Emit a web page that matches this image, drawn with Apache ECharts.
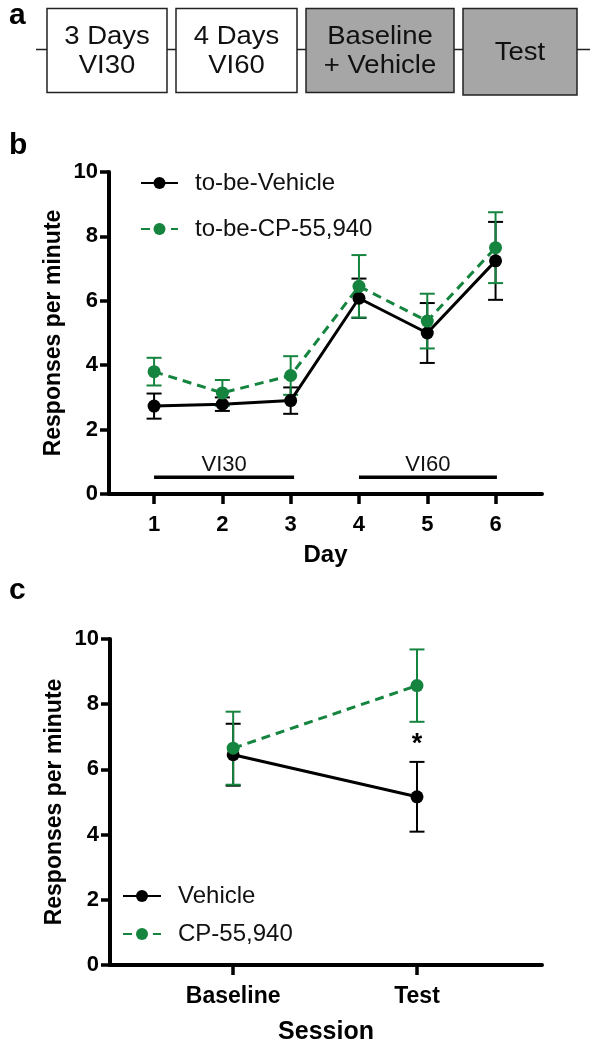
<!DOCTYPE html>
<html>
<head>
<meta charset="utf-8">
<script src="https://cdn.jsdelivr.net/npm/echarts@6/dist/echarts.min.js"></script>
<style>
html,body{margin:0;padding:0;background:#fff;}
#chart{width:594px;height:1050px;}
</style>
</head>
<body>
<div id="chart"></div>
<script>
// ---------- Panel a: protocol timeline ----------
var stageLabels = ['3 Days\nVI30', '4 Days\nVI60', 'Baseline\n+ Vehicle', 'Test'];
var stageShaded = [false, false, true, true];

// ---------- Panel b: acquisition ----------
var days = [1, 2, 3, 4, 5, 6];
var dayTickLabels = ['1', '2', '3', '4', '5', '6'];
var toBeVehicleMean = [2.73, 2.79, 2.90, 6.08, 5.00, 7.24];
var toBeVehicleSem  = [0.39, 0.21, 0.41, 0.61, 0.93, 1.21];
var toBeCPMean      = [3.80, 3.14, 3.68, 6.45, 5.37, 7.65];
var toBeCPSem       = [0.43, 0.40, 0.60, 0.97, 0.85, 1.10];
var scheduleNames = ['VI30', 'VI60'];
var scheduleStartDay = [1, 4];
var scheduleEndDay = [3.05, 6.02];
var scheduleLevel = 0.52;

// ---------- Panel c: test ----------
var sessions = ['Baseline', 'Test'];
var sessionPos = [1, 2];
var vehicleMean = [6.45, 5.16];
var vehicleSem  = [0.95, 1.07];
var cpMean      = [6.65, 8.57];
var cpSem       = [1.12, 1.11];
var sigSession = [2];
var sigLevel = [6.75];
var sigText = ['*'];

var FONT = '"Liberation Sans", Arial, sans-serif';
var GREEN = '#15843f';
var BLACK = '#000000';

function errData(xs, m, e) {
  return xs.map(function (x, i) { return [x, m[i] - e[i], m[i] + e[i]]; });
}
function lineData(xs, m) {
  return xs.map(function (x, i) { return [x, m[i]]; });
}
function errRender(color) {
  return function (params, api) {
    var x = api.value(0);
    var lo = api.coord([x, api.value(1)]);
    var hi = api.coord([x, api.value(2)]);
    var w = 7.5;
    var st = { stroke: color, lineWidth: 2 };
    return {
      type: 'group',
      children: [
        { type: 'line', shape: { x1: lo[0], y1: lo[1], x2: hi[0], y2: hi[1] }, style: st },
        { type: 'line', shape: { x1: hi[0] - w, y1: hi[1], x2: hi[0] + w, y2: hi[1] }, style: st },
        { type: 'line', shape: { x1: lo[0] - w, y1: lo[1], x2: lo[0] + w, y2: lo[1] }, style: st }
      ]
    };
  };
}

function yAxisCfg(gridIndex) {
  return {
    type: 'value', gridIndex: gridIndex, min: 0, max: 10, interval: 2,
    name: 'Responses per minute', nameLocation: 'middle', nameGap: 44, nameMoveOverlap: false,
    nameTextStyle: { fontFamily: FONT, fontSize: 23, fontWeight: 'bold', color: BLACK },
    axisLine: { show: true, lineStyle: { color: BLACK, width: 4 } },
    axisTick: { show: true, length: 9, lineStyle: { color: BLACK, width: 3.5 } },
    axisLabel: { fontFamily: FONT, fontSize: 22, fontWeight: 'bold', color: BLACK, margin: 11 },
    splitLine: { show: false }
  };
}

// ---------- graphic for panel a ----------
var boxL = [47, 176, 306, 463];
var boxR = [167, 297, 454, 577];
var boxT = [8.5, 8.5, 8.5, 8.5];
var boxB = [92.5, 92.5, 92.5, 95];
var graphics = [
  { type: 'line', shape: { x1: 36, y1: 49.5, x2: 590, y2: 49.5 }, style: { stroke: '#222', lineWidth: 1.5 }, z: 1 }
];
stageLabels.forEach(function (lab, i) {
  graphics.push({
    type: 'rect', shape: { x: boxL[i], y: boxT[i], width: boxR[i] - boxL[i], height: boxB[i] - boxT[i] },
    style: { fill: stageShaded[i] ? '#a6a6a6' : '#ffffff', stroke: '#222', lineWidth: 1.5 }, z: 2
  });
  graphics.push({
    type: 'text', x: (boxL[i] + boxR[i]) / 2, y: (boxT[i] + boxB[i]) / 2 + 1, scaleX: 1.1, z: 3,
    style: { text: lab, font: '25px ' + FONT, fill: '#111', align: 'center', verticalAlign: 'middle', lineHeight: 29 }
  });
});
var panelLetters = ['a', 'b', 'c'];
var panelLetterY = [15.5, 146, 591];
panelLetters.forEach(function (p, i) {
  graphics.push({
    type: 'text', x: 9, y: panelLetterY[i], z: 3,
    style: { text: p, font: 'bold 30px ' + FONT, fill: BLACK, align: 'left', verticalAlign: 'middle' }
  });
});

var chart = echarts.init(document.getElementById('chart'), null, { renderer: 'canvas' });
chart.setOption({
  animation: false,
  backgroundColor: '#ffffff',
  graphic: graphics,
  grid: [
    { left: 109, top: 172, width: 433, height: 322 },
    { left: 110, top: 639, width: 432, height: 326 }
  ],
  legend: [
    {
      data: ['to-be-Vehicle', 'to-be-CP-55,940'], orient: 'vertical', left: 140, top: 171, padding: 0,
      itemWidth: 37, itemHeight: 15, itemGap: 22, selectedMode: false,
      textStyle: { fontFamily: FONT, fontSize: 24, color: '#111', padding: [0, 0, 0, 12] }
    },
    {
      data: ['Vehicle', 'CP-55,940'], orient: 'vertical', left: 122, top: 884, padding: 0,
      itemWidth: 38, itemHeight: 15, itemGap: 14, selectedMode: false,
      textStyle: { fontFamily: FONT, fontSize: 24, color: '#111', padding: [0, 0, 0, 12] }
    }
  ],
  xAxis: [
    {
      type: 'value', gridIndex: 0, min: 0.34, max: 6.68,
      name: 'Day', nameLocation: 'middle', nameGap: 49,
      nameTextStyle: { fontFamily: FONT, fontSize: 24, fontWeight: 'bold', color: BLACK },
      axisLine: { show: true, onZero: false, lineStyle: { color: BLACK, width: 4 } },
      axisTick: { show: true, customValues: days, length: 10, lineStyle: { color: BLACK, width: 3.5 } },
      axisLabel: { customValues: days, fontFamily: FONT, fontSize: 22, fontWeight: 'bold', color: BLACK, margin: 20,
        formatter: function (v) { return dayTickLabels[days.indexOf(v)]; } },
      splitLine: { show: false }
    },
    {
      type: 'value', gridIndex: 1, min: 0.33, max: 2.68,
      name: 'Session', nameLocation: 'middle', nameGap: 55,
      nameTextStyle: { fontFamily: FONT, fontSize: 25, fontWeight: 'bold', color: BLACK },
      axisLine: { show: true, onZero: false, lineStyle: { color: BLACK, width: 4 } },
      axisTick: { show: true, customValues: sessionPos, length: 10, lineStyle: { color: BLACK, width: 3.5 } },
      axisLabel: { customValues: sessionPos, fontFamily: FONT, fontSize: 23, fontWeight: 'bold', color: BLACK, margin: 20,
        formatter: function (v) { return sessions[sessionPos.indexOf(v)]; } },
      splitLine: { show: false }
    }
  ],
  yAxis: [yAxisCfg(0), yAxisCfg(1)],
  series: [
    {
      type: 'custom', xAxisIndex: 0, yAxisIndex: 0, silent: true,
      data: scheduleNames.map(function (n, i) { return [scheduleStartDay[i], scheduleEndDay[i], scheduleLevel]; }),
      encode: { x: [0, 1], y: 2 },
      renderItem: function (params, api) {
        var p1 = api.coord([api.value(0), api.value(2)]);
        var p2 = api.coord([api.value(1), api.value(2)]);
        return {
          type: 'group', children: [
            { type: 'line', shape: { x1: p1[0], y1: p1[1], x2: p2[0], y2: p2[1] }, style: { stroke: BLACK, lineWidth: 3.5 } },
            { type: 'text', x: (p1[0] + p2[0]) / 2, y: p1[1] - 1,
              style: { text: scheduleNames[params.dataIndex], font: '22px ' + FONT, fill: '#111', align: 'center', verticalAlign: 'bottom' } }
          ]
        };
      }
    },
    {
      type: 'custom', name: 'to-be-Vehicle-err', xAxisIndex: 0, yAxisIndex: 0, silent: true,
      data: errData(days, toBeVehicleMean, toBeVehicleSem), encode: { x: 0, y: [1, 2] },
      renderItem: errRender(BLACK)
    },
    {
      type: 'line', name: 'to-be-Vehicle', xAxisIndex: 0, yAxisIndex: 0,
      data: lineData(days, toBeVehicleMean), symbol: 'circle', symbolSize: 13,
      itemStyle: { color: BLACK }, lineStyle: { color: BLACK, width: 3 }, emphasis: { disabled: true }
    },
    {
      type: 'custom', name: 'to-be-CP-err', xAxisIndex: 0, yAxisIndex: 0, silent: true,
      data: errData(days, toBeCPMean, toBeCPSem), encode: { x: 0, y: [1, 2] },
      renderItem: errRender(GREEN)
    },
    {
      type: 'line', name: 'to-be-CP-55,940', xAxisIndex: 0, yAxisIndex: 0,
      data: lineData(days, toBeCPMean), symbol: 'circle', symbolSize: 13,
      itemStyle: { color: GREEN }, lineStyle: { color: GREEN, width: 3, type: [9, 6] }, emphasis: { disabled: true }
    },
    {
      type: 'custom', name: 'Vehicle-err', xAxisIndex: 1, yAxisIndex: 1, silent: true,
      data: errData(sessionPos, vehicleMean, vehicleSem), encode: { x: 0, y: [1, 2] },
      renderItem: errRender(BLACK)
    },
    {
      type: 'line', name: 'Vehicle', xAxisIndex: 1, yAxisIndex: 1,
      data: lineData(sessionPos, vehicleMean), symbol: 'circle', symbolSize: 13,
      itemStyle: { color: BLACK }, lineStyle: { color: BLACK, width: 3 }, emphasis: { disabled: true }
    },
    {
      type: 'custom', name: 'CP-err', xAxisIndex: 1, yAxisIndex: 1, silent: true,
      data: errData(sessionPos, cpMean, cpSem), encode: { x: 0, y: [1, 2] },
      renderItem: errRender(GREEN)
    },
    {
      type: 'line', name: 'CP-55,940', xAxisIndex: 1, yAxisIndex: 1,
      data: lineData(sessionPos, cpMean), symbol: 'circle', symbolSize: 13,
      itemStyle: { color: GREEN }, lineStyle: { color: GREEN, width: 3, type: [9, 6] }, emphasis: { disabled: true }
    },
    {
      type: 'custom', xAxisIndex: 1, yAxisIndex: 1, silent: true,
      data: sigSession.map(function (s, i) { return [s, sigLevel[i]]; }), encode: { x: 0, y: 1 },
      renderItem: function (params, api) {
        var p = api.coord([api.value(0), api.value(1)]);
        return { type: 'text', x: p[0], y: p[1],
          style: { text: sigText[params.dataIndex], font: 'bold 27px ' + FONT, fill: BLACK, align: 'center', verticalAlign: 'middle' } };
      }
    }
  ]
});
</script>
</body>
</html>
